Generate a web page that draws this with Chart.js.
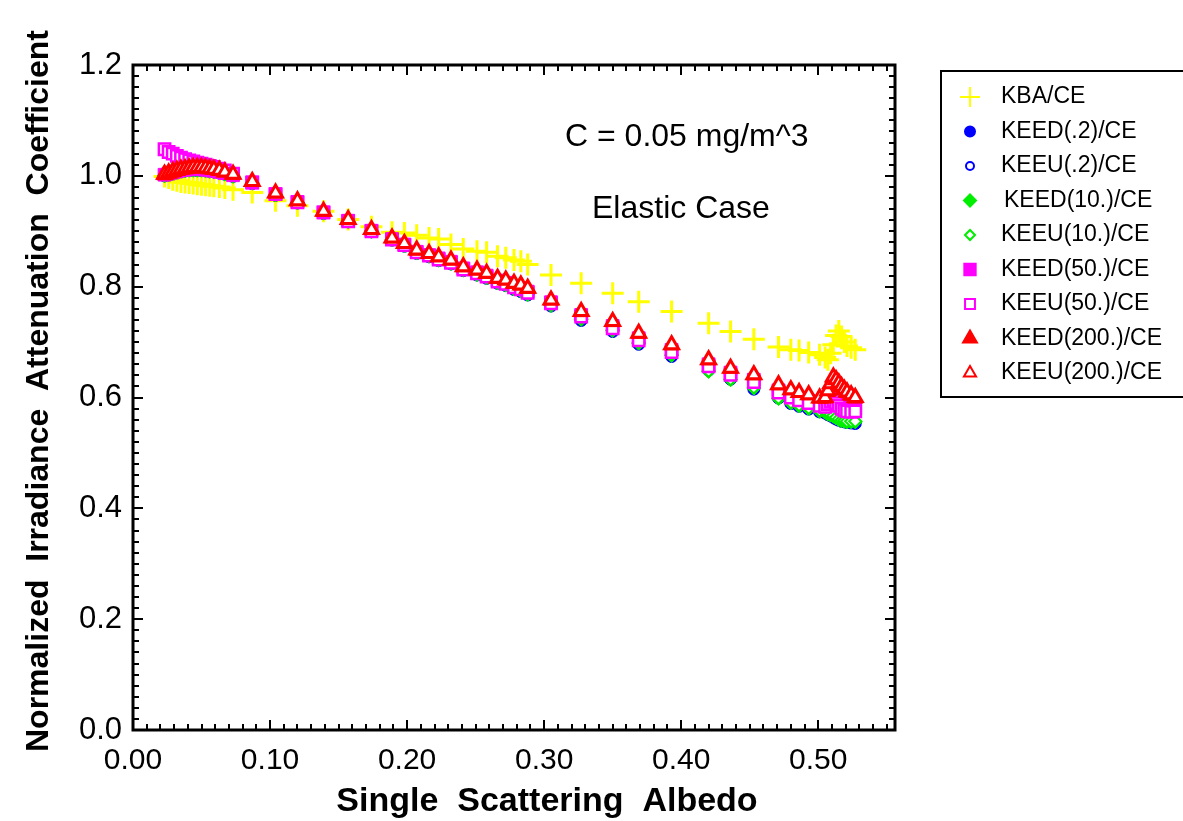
<!DOCTYPE html>
<html>
<head>
<meta charset="utf-8">
<script src="https://cdn.jsdelivr.net/npm/chart.js@4/dist/chart.umd.min.js"></script>
<style>
  html, body { margin: 0; padding: 0; background: #fff; }
  #wrap { width: 1183px; height: 821px; }
</style>
</head>
<body>
<div id="wrap"><canvas id="albedo-chart" width="1183" height="821"></canvas></div>
<script>
(function () {
    'use strict';

    // Single scattering albedo, shared by every series
    var albedo = [
        0.023, 0.026, 0.029, 0.032, 0.035, 0.038, 0.041, 0.044, 0.047, 0.050, 0.053, 0.056, 0.059, 0.063, 0.067, 0.073,
        0.087, 0.104, 0.120, 0.139, 0.157, 0.174, 0.189, 0.198, 0.207, 0.216, 0.223, 0.232, 0.241, 0.251, 0.258, 0.266, 0.272, 0.278, 0.283, 0.288,
        0.305, 0.327, 0.350, 0.369, 0.393, 0.420, 0.436, 0.453, 0.471, 0.480, 0.486, 0.493, 0.501,
        0.505, 0.507, 0.509, 0.511, 0.513, 0.515, 0.517, 0.519, 0.521, 0.524, 0.527
    ];

    var kba = [
        0.999, 0.996, 0.993, 0.991, 0.989, 0.988, 0.987, 0.986, 0.985, 0.984, 0.983, 0.982, 0.981, 0.980, 0.978, 0.975,
        0.970, 0.955, 0.946, 0.936, 0.921, 0.908, 0.898, 0.897, 0.893, 0.888, 0.886, 0.876, 0.868, 0.864, 0.862, 0.855, 0.852, 0.848, 0.846, 0.840,
        0.821, 0.806, 0.788, 0.773, 0.755, 0.734, 0.719, 0.705, 0.691, 0.686, 0.685, 0.681, 0.677,
        0.672, 0.668, 0.680, 0.695, 0.712, 0.720, 0.710, 0.700, 0.693, 0.690, 0.686
    ];

    var keed02 = [
        1.000, 1.002, 1.004, 1.006, 1.008, 1.009, 1.010, 1.010, 1.010, 1.010, 1.009, 1.008, 1.007, 1.005, 1.003, 0.999,
        0.986, 0.965, 0.951, 0.932, 0.917, 0.899, 0.884, 0.873, 0.860, 0.854, 0.847, 0.841, 0.829, 0.821, 0.815, 0.806, 0.802, 0.795, 0.791, 0.785,
        0.765, 0.739, 0.719, 0.696, 0.674, 0.649, 0.633, 0.615, 0.599, 0.589, 0.584, 0.579, 0.574,
        0.572, 0.569, 0.567, 0.564, 0.561, 0.559, 0.557, 0.556, 0.555, 0.554, 0.553
    ];

    var keeu02 = [
        1.001, 1.003, 1.005, 1.007, 1.009, 1.010, 1.011, 1.011, 1.011, 1.011, 1.010, 1.009, 1.008, 1.006, 1.004, 1.000,
        0.987, 0.966, 0.952, 0.933, 0.918, 0.900, 0.885, 0.874, 0.861, 0.855, 0.848, 0.842, 0.830, 0.822, 0.816, 0.807, 0.803, 0.796, 0.792, 0.786,
        0.766, 0.740, 0.720, 0.697, 0.675, 0.650, 0.634, 0.616, 0.600, 0.590, 0.585, 0.580, 0.575,
        0.573, 0.570, 0.568, 0.565, 0.562, 0.560, 0.558, 0.557, 0.556, 0.555, 0.554
    ];

    var keed10 = [
        1.000, 1.002, 1.004, 1.006, 1.008, 1.009, 1.010, 1.010, 1.010, 1.010, 1.009, 1.008, 1.007, 1.005, 1.003, 0.999,
        0.987, 0.966, 0.952, 0.933, 0.918, 0.900, 0.885, 0.874, 0.861, 0.855, 0.848, 0.842, 0.830, 0.822, 0.816, 0.807, 0.803, 0.796, 0.792, 0.786,
        0.766, 0.741, 0.721, 0.698, 0.676, 0.647, 0.632, 0.617, 0.598, 0.590, 0.585, 0.580, 0.575,
        0.573, 0.570, 0.568, 0.566, 0.563, 0.560, 0.558, 0.557, 0.556, 0.556, 0.556
    ];

    var keeu10 = [
        1.001, 1.003, 1.005, 1.007, 1.009, 1.010, 1.011, 1.011, 1.011, 1.011, 1.010, 1.009, 1.008, 1.006, 1.004, 1.000,
        0.987, 0.966, 0.952, 0.933, 0.918, 0.900, 0.885, 0.874, 0.861, 0.855, 0.848, 0.842, 0.830, 0.822, 0.816, 0.807, 0.803, 0.796, 0.792, 0.786,
        0.767, 0.742, 0.722, 0.699, 0.677, 0.648, 0.633, 0.618, 0.599, 0.591, 0.586, 0.581, 0.576,
        0.574, 0.571, 0.569, 0.567, 0.564, 0.561, 0.559, 0.558, 0.557, 0.557, 0.557
    ];

    var keed50 = [
        1.002, 1.004, 1.006, 1.008, 1.010, 1.011, 1.012, 1.012, 1.012, 1.012, 1.011, 1.010, 1.009, 1.007, 1.005, 1.001,
        0.988, 0.967, 0.953, 0.934, 0.919, 0.901, 0.886, 0.876, 0.863, 0.857, 0.851, 0.845, 0.833, 0.826, 0.820, 0.811, 0.807, 0.801, 0.797, 0.791,
        0.772, 0.749, 0.729, 0.707, 0.686, 0.660, 0.645, 0.632, 0.613, 0.604, 0.599, 0.594, 0.589,
        0.588, 0.593, 0.598, 0.602, 0.597, 0.592, 0.587, 0.583, 0.580, 0.579, 0.580
    ];

    var keeu50 = [
        1.048, 1.043, 1.040, 1.036, 1.033, 1.030, 1.028, 1.026, 1.024, 1.022, 1.020, 1.018, 1.016, 1.013, 1.010, 1.004,
        0.988, 0.967, 0.952, 0.934, 0.918, 0.900, 0.885, 0.875, 0.862, 0.856, 0.849, 0.843, 0.831, 0.824, 0.818, 0.809, 0.805, 0.799, 0.795, 0.789,
        0.770, 0.746, 0.725, 0.703, 0.682, 0.656, 0.641, 0.628, 0.609, 0.600, 0.595, 0.590, 0.585,
        0.583, 0.588, 0.592, 0.595, 0.590, 0.585, 0.580, 0.577, 0.575, 0.574, 0.575
    ];

    var keed200 = [
        1.001, 1.004, 1.006, 1.009, 1.011, 1.012, 1.013, 1.014, 1.014, 1.014, 1.013, 1.012, 1.011, 1.009, 1.006, 1.002,
        0.989, 0.968, 0.954, 0.935, 0.920, 0.902, 0.887, 0.877, 0.865, 0.859, 0.853, 0.847, 0.835, 0.829, 0.823, 0.814, 0.811, 0.805, 0.802, 0.796,
        0.775, 0.754, 0.736, 0.715, 0.694, 0.667, 0.652, 0.640, 0.622, 0.613, 0.608, 0.604, 0.598,
        0.598, 0.610, 0.622, 0.634, 0.630, 0.624, 0.618, 0.613, 0.608, 0.603, 0.598
    ];

    var keeu200 = [
        1.003, 1.005, 1.008, 1.010, 1.012, 1.013, 1.014, 1.015, 1.015, 1.015, 1.014, 1.013, 1.012, 1.010, 1.007, 1.003,
        0.990, 0.969, 0.955, 0.936, 0.921, 0.903, 0.888, 0.878, 0.866, 0.860, 0.854, 0.848, 0.836, 0.830, 0.824, 0.815, 0.812, 0.806, 0.803, 0.797,
        0.776, 0.755, 0.737, 0.716, 0.695, 0.668, 0.653, 0.641, 0.623, 0.614, 0.609, 0.605, 0.599,
        0.600, 0.612, 0.625, 0.637, 0.632, 0.626, 0.620, 0.615, 0.610, 0.605, 0.600
    ];

    var xTicks = [0.0, 0.1, 0.2, 0.3, 0.4, 0.5];
    var yTicks = [0.0, 0.2, 0.4, 0.6, 0.8, 1.0, 1.2];

    var FONT = '"Liberation Sans", Arial, sans-serif';

    function pts(ys) {
        return albedo.map(function (x, i) { return { x: x, y: ys[i] }; });
    }

    // label, values, colour, marker, filled, radius, line width, draw order
    var seriesDefs = [
        ['KBA/CE',          kba,     '#ffff00', 'cross',    true,  11, 3,   9],
        ['KEED(.2)/CE',     keed02,  '#0000ff', 'circle',   true,  6,  1,   8],
        ['KEEU(.2)/CE',     keeu02,  '#0000ff', 'circle',   false, 5,  2,   7],
        ['KEED(10.)/CE',    keed10,  '#00ee00', 'rectRot',  true,  7,  1,   6],
        ['KEEU(10.)/CE',    keeu10,  '#00ee00', 'rectRot',  false, 6,  2,   5],
        ['KEED(50.)/CE',    keed50,  '#ff00ff', 'rect',     true,  9,  1,   4],
        ['KEEU(50.)/CE',    keeu50,  '#ff00ff', 'rect',     false, 8,  2.5, 3],
        ['KEED(200.)/CE',   keed200, '#ff0000', 'triangle', true,  9,  1,   2],
        ['KEEU(200.)/CE',   keeu200, '#ff0000', 'triangle', false, 8,  3,   1]
    ];

    var datasets = seriesDefs.map(function (s) {
        return {
            label: s[0],
            data: pts(s[1]),
            showLine: false,
            pointStyle: s[3],
            pointRadius: s[5],
            pointBorderWidth: s[6],
            pointBorderColor: s[2],
            pointBackgroundColor: s[4] ? s[2] : '#ffffff',
            order: s[7]
        };
    });

    function marker(ctx, style, x, y, r, color, filled, lw) {
        ctx.save();
        ctx.fillStyle = filled ? color : '#ffffff';
        ctx.strokeStyle = color;
        Chart.helpers.drawPoint(ctx, { pointStyle: style, radius: r, rotation: 0, borderWidth: lw }, x, y);
        ctx.restore();
    }

    var decorations = {
        id: 'decorations',
        afterDraw: function (chart) {
            var ctx = chart.ctx;
            var a = chart.chartArea;
            var xs = chart.scales.x;
            var ys = chart.scales.y;
            var i, px, len;

            ctx.save();
            ctx.strokeStyle = '#000';

            // inward ticks on all four sides
            ctx.lineWidth = 2;
            ctx.beginPath();
            for (i = 0; i <= 55; i++) {
                px = Math.round(xs.getPixelForValue(i / 100));
                len = i % 10 === 0 ? 10 : 6;
                ctx.moveTo(px, a.bottom); ctx.lineTo(px, a.bottom - len);
                ctx.moveTo(px, a.top); ctx.lineTo(px, a.top + len);
            }
            for (i = 0; i <= 60; i++) {
                px = Math.round(ys.getPixelForValue(i / 50));
                len = i % 10 === 0 ? 10 : 6;
                ctx.moveTo(a.left, px); ctx.lineTo(a.left + len, px);
                ctx.moveTo(a.right, px); ctx.lineTo(a.right - len, px);
            }
            ctx.stroke();

            ctx.lineWidth = 3;
            ctx.strokeRect(a.left, a.top, a.right - a.left, a.bottom - a.top);

            // axis titles
            ctx.fillStyle = '#000';
            ctx.font = 'bold 34px ' + FONT;
            ctx.textBaseline = 'alphabetic';
            ctx.textAlign = 'center';
            ctx.fillText('Single  Scattering  Albedo', 547, 811);

            ctx.save();
            ctx.font = 'bold 32px ' + FONT;
            ctx.translate(48, 752);
            ctx.rotate(-Math.PI / 2);
            ctx.textAlign = 'left';
            ctx.fillText('Normalized  Irradiance  Attenuation  Coefficient', 0, 0);
            ctx.restore();

            // notes inside the plot
            ctx.font = '32px ' + FONT;
            ctx.textAlign = 'left';
            ctx.fillText('C = 0.05 mg/m^3', 565, 146);
            ctx.fillText('Elastic Case', 592, 218);

            // legend box
            ctx.lineWidth = 2;
            ctx.strokeRect(941, 71, 260, 326);
            ctx.font = '23px ' + FONT;
            ctx.textBaseline = 'middle';
            seriesDefs.forEach(function (s, k) {
                var cy = 97 + k * 34.5;
                var r = s[3] === 'cross' ? 10 : s[5] - 1;
                marker(ctx, s[3], 970, cy, r, s[2], s[4], s[3] === 'cross' ? 2.5 : s[6]);
                ctx.fillStyle = '#000';
                ctx.fillText(s[0], s[0] === 'KEED(10.)/CE' ? 1004 : 1001, cy);
            });

            ctx.restore();
        }
    };

    new Chart(document.getElementById('albedo-chart'), {
        type: 'scatter',
        data: { datasets: datasets },
        plugins: [decorations],
        options: {
            responsive: false,
            animation: false,
            events: [],
            layout: { padding: { left: 0, top: 65, right: 288, bottom: 0 } },
            plugins: {
                legend: { display: false },
                tooltip: { enabled: false }
            },
            scales: {
                x: {
                    type: 'linear',
                    min: 0,
                    max: 0.556,
                    grid: { display: false, drawTicks: false },
                    border: { display: false },
                    afterFit: function (scale) { scale.height = 91; },
                    afterBuildTicks: function (scale) {
                        scale.ticks = xTicks.map(function (v) { return { value: v }; });
                    },
                    ticks: {
                        padding: 13,
                        color: '#000',
                        maxRotation: 0,
                        autoSkip: false,
                        font: { family: FONT, size: 30 },
                        callback: function (v) { return v.toFixed(2); }
                    }
                },
                y: {
                    min: 0,
                    max: 1.2,
                    grid: { display: false, drawTicks: false },
                    border: { display: false },
                    afterFit: function (scale) { scale.width = 133; },
                    afterBuildTicks: function (scale) {
                        scale.ticks = yTicks.map(function (v) { return { value: v }; });
                    },
                    ticks: {
                        padding: 11,
                        color: '#000',
                        autoSkip: false,
                        font: { family: FONT, size: 31 },
                        callback: function (v) { return v.toFixed(1); }
                    }
                }
            }
        }
    });
})();
</script>
</body>
</html>
